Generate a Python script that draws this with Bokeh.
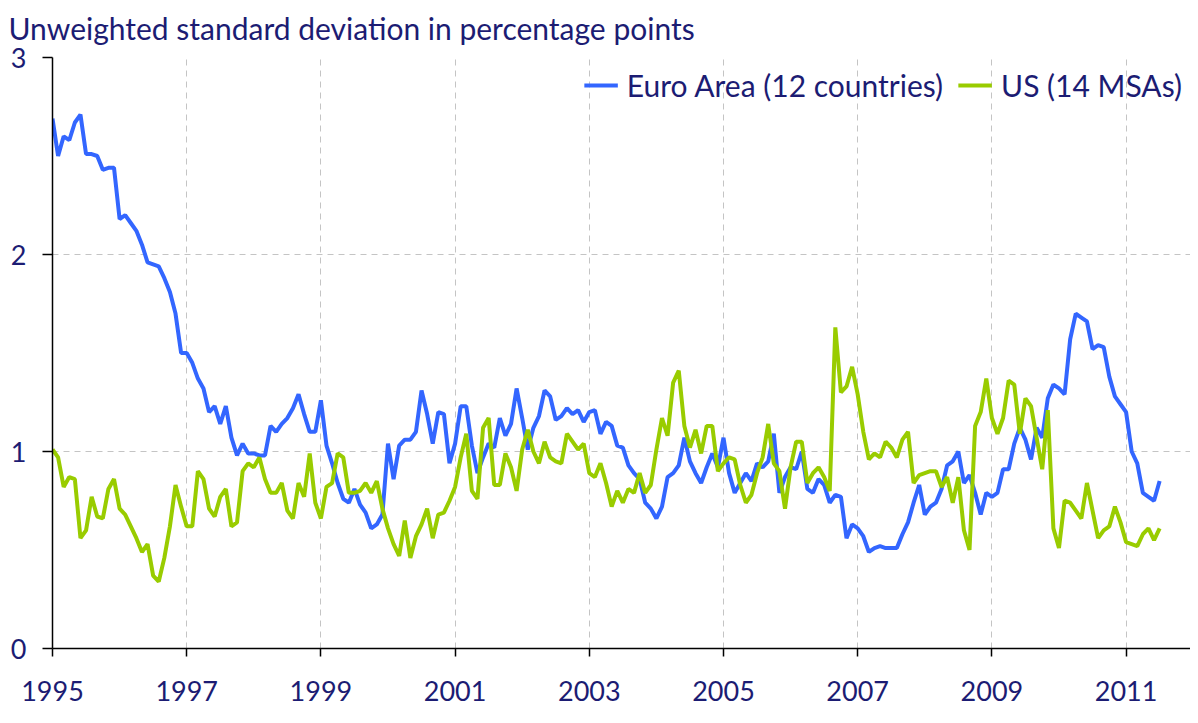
from bokeh.plotting import figure
from bokeh.models import FixedTicker, Legend, LegendItem
from bokeh.embed import file_html
from bokeh.resources import INLINE

title_text = "Unweighted standard deviation in percentage points"
series_names = ["Euro Area (12 countries)", "US (14 MSAs)"]
start_year = 1995  # monthly data from January 1995

euro = [
    2.69, 2.50, 2.60, 2.58, 2.67, 2.71, 2.51, 2.51, 2.50, 2.43, 2.44, 2.44,
    2.18, 2.20, 2.16, 2.12, 2.05, 1.96, 1.95, 1.94, 1.88, 1.81, 1.70, 1.50,
    1.50, 1.45, 1.37, 1.32, 1.20, 1.23, 1.14, 1.23, 1.07, 0.98, 1.04, 0.99,
    0.99, 0.98, 0.98, 1.13, 1.10, 1.14, 1.17, 1.22, 1.29, 1.19, 1.10, 1.10,
    1.26, 1.03, 0.94, 0.84, 0.76, 0.74, 0.81, 0.73, 0.69, 0.61, 0.63, 0.68,
    1.04, 0.86, 1.03, 1.06, 1.06, 1.10, 1.31, 1.19, 1.04, 1.20, 1.19, 0.94,
    1.04, 1.23, 1.23, 1.03, 0.89, 0.97, 1.04, 1.02, 1.17, 1.08, 1.14, 1.32,
    1.17, 1.01, 1.12, 1.18, 1.31, 1.28, 1.16, 1.18, 1.22, 1.19, 1.21, 1.15,
    1.20, 1.21, 1.09, 1.15, 1.13, 1.03, 1.02, 0.93, 0.89, 0.86, 0.74, 0.71,
    0.66, 0.72, 0.87, 0.89, 0.93, 1.07, 0.95, 0.89, 0.84, 0.92, 0.99, 0.92,
    1.07, 0.89, 0.79, 0.84, 0.89, 0.85, 0.94, 0.92, 0.95, 1.09, 0.79, 0.87,
    0.92, 0.91, 1.00, 0.81, 0.79, 0.86, 0.83, 0.74, 0.78, 0.77, 0.56, 0.63,
    0.61, 0.57, 0.49, 0.51, 0.52, 0.51, 0.51, 0.51, 0.58, 0.64, 0.74, 0.83,
    0.68, 0.72, 0.74, 0.81, 0.93, 0.95, 1.00, 0.84, 0.88, 0.79, 0.68, 0.79,
    0.77, 0.79, 0.91, 0.91, 1.04, 1.12, 1.06, 0.96, 1.12, 1.07, 1.27, 1.34,
    1.32, 1.29, 1.57, 1.70, 1.68, 1.66, 1.52, 1.54, 1.53, 1.38, 1.28, 1.24,
    1.20, 1.00, 0.94, 0.79, 0.77, 0.75, 0.85,
]

us = [
    1.01, 0.97, 0.82, 0.87, 0.86, 0.56, 0.60, 0.77, 0.67, 0.66, 0.81, 0.86,
    0.71, 0.68, 0.62, 0.56, 0.49, 0.53, 0.37, 0.34, 0.46, 0.62, 0.83, 0.72,
    0.62, 0.62, 0.90, 0.86, 0.71, 0.67, 0.77, 0.81, 0.62, 0.64, 0.90, 0.94,
    0.92, 0.97, 0.86, 0.79, 0.79, 0.84, 0.70, 0.66, 0.84, 0.77, 0.99, 0.74,
    0.66, 0.82, 0.84, 0.99, 0.97, 0.79, 0.79, 0.80, 0.84, 0.79, 0.85, 0.71,
    0.61, 0.53, 0.47, 0.65, 0.46, 0.57, 0.63, 0.71, 0.56, 0.68, 0.69, 0.75,
    0.82, 0.97, 1.09, 0.80, 0.76, 1.12, 1.17, 0.83, 0.83, 0.99, 0.92, 0.80,
    1.01, 1.11, 1.00, 0.94, 1.05, 0.97, 0.95, 0.94, 1.09, 1.05, 1.01, 1.04,
    0.89, 0.87, 0.94, 0.84, 0.72, 0.80, 0.74, 0.81, 0.79, 0.89, 0.79, 0.83,
    1.01, 1.17, 1.08, 1.35, 1.41, 1.13, 1.02, 1.11, 0.99, 1.13, 1.13, 0.90,
    0.94, 0.97, 0.96, 0.83, 0.74, 0.78, 0.89, 0.97, 1.14, 0.94, 0.90, 0.71,
    0.92, 1.05, 1.05, 0.84, 0.89, 0.92, 0.87, 0.80, 1.63, 1.30, 1.33, 1.43,
    1.29, 1.10, 0.96, 0.99, 0.97, 1.05, 1.02, 0.97, 1.06, 1.10, 0.84, 0.88,
    0.89, 0.90, 0.90, 0.82, 0.87, 0.74, 0.87, 0.60, 0.50, 1.13, 1.20, 1.37,
    1.17, 1.09, 1.17, 1.36, 1.34, 1.09, 1.27, 1.23, 1.07, 0.91, 1.21, 0.61,
    0.51, 0.75, 0.74, 0.70, 0.66, 0.84, 0.70, 0.56, 0.60, 0.62, 0.72, 0.64,
    0.54, 0.53, 0.52, 0.58, 0.61, 0.55, 0.61,
]

x_ticks = [1995, 1997, 1999, 2001, 2003, 2005, 2007, 2009, 2011]
x_grid = [1997, 1999, 2001, 2003, 2005, 2007, 2009, 2011]
y_ticks = [0, 1, 2, 3]
y_grid = [1, 2]

dates = [start_year + i / 12 for i in range(len(euro))]

NAVY = "#1c1c73"
FONT = "Lato"
BLUE = "#3366ff"
GREEN = "#99cc00"

p = figure(width=1190, height=712, output_backend="svg", toolbar_location=None,
           x_range=(1995, 2011.96), y_range=(0, 3),
           min_border_left=52, min_border_right=0, min_border_top=57,
           min_border_bottom=64)

p.title.text = title_text
p.title.align = "left"
p.title.vertical_align = "top"
p.title.offset = -44
p.title.standoff = 19
p.title.text_font = FONT
p.title.text_font_size = "30px"
p.title.text_font_style = "normal"
p.title.text_color = NAVY

r_eu = p.line(dates, euro, line_color=BLUE, line_width=4)
r_us = p.line(dates, us, line_color=GREEN, line_width=4)

legend = Legend(items=[LegendItem(label=series_names[0], renderers=[r_eu]),
                       LegendItem(label=series_names[1], renderers=[r_us])],
                location="top_right", orientation="horizontal",
                border_line_alpha=0, background_fill_alpha=0,
                label_text_font=FONT, label_text_font_size="30px",
                label_text_color=NAVY, glyph_width=34, glyph_height=40,
                label_standoff=9, spacing=15, padding=4, margin=4)
p.add_layout(legend)

p.outline_line_color = None
p.background_fill_color = "white"

p.xaxis.ticker = FixedTicker(ticks=x_ticks)
p.yaxis.ticker = FixedTicker(ticks=y_ticks)
for ax in (p.xaxis, p.yaxis):
    ax.axis_line_color = "black"
    ax.axis_line_width = 1.5
    ax.major_tick_line_color = "black"
    ax.major_tick_line_width = 1.5
    ax.major_tick_in = 0
    ax.minor_tick_line_color = None
    ax.major_label_text_font = FONT
    ax.major_label_text_font_size = "27px"
    ax.major_label_text_color = NAVY
p.xaxis.major_tick_out = 8
p.xaxis.major_label_standoff = 24
p.yaxis.major_tick_out = 10
p.yaxis.major_label_standoff = 16

p.xgrid.ticker = FixedTicker(ticks=x_grid)
p.ygrid.ticker = FixedTicker(ticks=y_grid)
for g in (p.xgrid, p.ygrid):
    g.grid_line_color = "#c4c4c4"
    g.grid_line_dash = "6 5"
    g.grid_line_width = 1

open("out.html", "w").write(file_html(p, INLINE))
